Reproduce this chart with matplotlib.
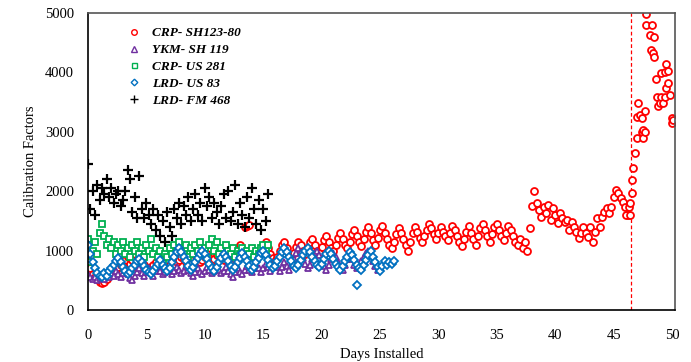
import numpy as np
import matplotlib
matplotlib.use("Agg")
import matplotlib.pyplot as plt

plt.rcParams["font.family"] = ["Liberation Serif", "DejaVu Serif"]

# readings every 0.2 day from installation
step = 0.2

lrd_fm468 = [2450, 1700, 2000, 1600, 2100, 1850, 2050, 1950, 2200, 1900,
             2050, 1800, 1950, 2000, 1750, 1850, 2000, 2350, 2200, 1650,
             1900, 1550, 2250, 1700, 1550, 1800, 1600, 1450, 1700, 1350,
             1600, 1250, 1500, 1150, 1650, 1400, 1250, 1700, 1550, 1800,
             1450, 1750, 1600, 1900, 1500, 1700, 1950, 1600, 1800, 1500,
             2050, 1750, 1900, 1550, 1800, 1650, 1450, 1750, 1950, 1550,
             2000, 1500, 1650, 2100, 1450, 1800, 1600, 1400, 1900, 1550,
             2050, 1700, 1450, 1850, 1350, 1700, 1500, 1950]

crp_us281 = [1200, 800, 1000, 1150, 950, 1300, 1450, 1250, 1100, 1200,
             1050, 1150, 950, 1100, 1000, 1150, 950, 1050, 900, 1100,
             1000, 1150, 950, 1050, 900, 1100, 1000, 1200, 950, 1050,
             900, 1000, 850, 950, 900, 1050, 950, 1100, 1000, 1150,
             1050, 950, 1100, 900, 1050, 950, 1100, 1000, 1150, 950,
             1050, 900, 1100, 1200, 1000, 1150, 950, 1050, 900, 1100,
             1000, 950, 1050, 900, 1000, 950, 1050, 900, 1000, 950,
             1050, 900, 1000, 950, 1050, 1100, 1000, 1100]

lrd_us83 = [1100, 950, 800, 700, 620, 580, 560, 620, 580, 650,
            700, 760, 820, 870, 800, 720, 650, 600, 640, 700,
            760, 820, 860, 800, 740, 680, 640, 610, 660, 720,
            780, 840, 760, 700, 650, 700, 800, 900, 980, 1050,
            980, 900, 820, 740, 680, 720, 800, 880, 950, 1000,
            940, 860, 780, 700, 660, 720, 800, 880, 950, 900,
            820, 740, 680, 720, 800, 880, 960, 900, 820, 740,
            680, 720, 800, 880, 960, 1000, 920, 840, 760, 700,
            740, 820, 900, 980, 1050, 980, 900, 820, 740, 700,
            760, 840, 920, 1000, 1050, 980, 900, 820, 760, 720,
            780, 860, 940, 1000, 940, 860, 780, 720, 680, 740,
            820, 900, 980, 920, 840, 760, 700, 680, 760, 840,
            920, 1000, 900, 800, 720, 660, 740, 820, 760, 800,
            780, 820]
lrd_us83_outlier = (23.0, 420)

ykm_sh119 = [600, 550, 520, 560, 500, 540, 580, 520, 600, 550,
             620, 580, 650, 600, 560, 620, 680, 600, 540, 500,
             580, 640, 700, 620, 580, 640, 700, 620, 580, 650,
             720, 660, 600, 640, 700, 660, 600, 650, 720, 680,
             620, 660, 740, 680, 620, 580, 640, 700, 640, 600,
             660, 720, 680, 620, 660, 740, 680, 620, 660, 720,
             660, 600, 560, 640, 700, 640, 600, 680, 740, 680,
             640, 700, 760, 700, 640, 700, 780, 720, 660, 720,
             780, 720, 660, 720, 800, 740, 680, 760, 860, 960,
             1050, 980, 880, 780, 700, 760, 860, 960, 1000, 920,
             820, 740, 680, 760, 860, 960, 900, 800, 720, 680,
             760, 860, 940, 860, 760, 700, 740, 820, 900, 960,
             1000, 920, 820, 740, 680]

crp_sh123 = [850, 700, 600, 550, 520, 480, 460, 480, 520, 600,
             650, 700, 680, 720, 750, 800, 850, 900, 780, 850,
             750, 700, 680, 720, 750, 700, 680, 720, 760, 800,
             750, 700, 720, 780, 820, 760, 700, 740, 800, 850,
             900, 860, 800, 760, 820, 880, 920, 860, 800, 840,
             900, 950, 880, 820, 860, 920, 980, 900, 850, 880,
             940, 1000, 920, 860, 1050, 1100, 980, 1400, 1420, 1430,
             1000, 900, 860, 940, 1000, 1100, 1150, 1050, 950, 880,
             820, 900, 1000, 1100, 1150, 1050, 950, 880, 960, 1060,
             1150, 1100, 1000, 940, 1040, 1150, 1200, 1100, 1000, 960,
             1060, 1180, 1250, 1150, 1050, 1000, 1100, 1220, 1300, 1200,
             1100, 1050, 1150, 1280, 1350, 1250, 1150, 1080, 1200, 1320,
             1400, 1300, 1180, 1100, 1220, 1350, 1420, 1300, 1200, 1100,
             1050, 1150, 1280, 1380, 1300, 1200, 1100, 1000, 1150, 1300,
             1400, 1320, 1220, 1150, 1250, 1350, 1450, 1380, 1280, 1200,
             1300, 1400, 1320, 1250, 1180, 1300, 1420, 1350, 1250, 1150,
             1080, 1200, 1320, 1420, 1300, 1200, 1100, 1250, 1380, 1450,
             1350, 1250, 1150, 1280, 1400, 1450, 1350, 1250, 1180, 1300,
             1420, 1350, 1250, 1150, 1100, 1200, 1050, 1150, 1000, 1380,
             1750, 2000, 1800, 1680, 1570, 1730, 1630, 1770, 1520, 1720,
             1600, 1470, 1630, 1550, 1480, 1520, 1350, 1480, 1400, 1310,
             1210, 1300, 1400, 1300, 1230, 1400, 1150, 1310, 1550, 1400,
             1570, 1650, 1720, 1630, 1730, 1900, 2020, 1970, 1890, 1820,
             1730, 1600]

# readings after the sensor event (irregular times)
crp_tail_days = [46.1, 46.3, 46.4, 46.4, 46.6, 46.6, 46.7, 46.8, 47.0, 47.0,
                 47.1, 47.3, 47.4, 47.4, 47.5, 47.5, 47.7, 47.7, 47.8, 47.8,
                 48.1, 48.2, 48.3, 48.4, 48.5, 48.5, 48.6, 48.7, 48.8, 49.0,
                 49.1, 49.1, 49.2, 49.4, 49.4, 49.5, 49.5, 49.7, 49.7, 49.8,
                 50.0, 50.0, 50.1]
crp_tail_cf = [1600, 1730, 1800, 1600, 1970, 2190, 2390, 2640, 2900, 3250,
               3490, 3280, 3230, 3000, 3030, 2900, 3000, 3350, 4983, 4800,
               4630, 4380, 4800, 4330, 4600, 4260, 3890, 3590, 3440, 3490,
               3590, 3990, 3490, 3590, 4010, 4140, 3740, 4020, 3820, 3620,
               3230, 3150, 3200]

event_day = 46.5


def days(vals):
    return np.arange(len(vals)) * step


fig = plt.figure(figsize=(6.91, 3.62), dpi=100)
ax = fig.add_axes([0.1274, 0.1436, 0.8495, 0.8204])

red = "#FF0000"
purple = "#7030A0"
green = "#00B050"
blue = "#0070C0"

ax.axvline(event_day, color=red, lw=0.9, ls=(0, (3, 2)), zorder=1)

mk = dict(ls="none", ms=5.0, mew=1.3, mfc="white")
ax.plot(np.concatenate([days(crp_sh123), crp_tail_days]),
        np.concatenate([crp_sh123, crp_tail_cf]),
        marker="o", mec=red, label="CRP- SH123-80", **mk)
ax.plot(days(ykm_sh119), ykm_sh119, marker="^", mec=purple,
        label="YKM- SH 119", **mk)
ax.plot(days(crp_us281), crp_us281, marker="s", mec=green,
        label="CRP- US 281", **dict(mk, ms=4.5))
ax.plot(np.append(days(lrd_us83), lrd_us83_outlier[0]),
        np.append(lrd_us83, lrd_us83_outlier[1]),
        marker="D", mec=blue, label="LRD- US 83", **dict(mk, ms=4.2))
ax.plot(days(lrd_fm468), lrd_fm468, ls="none", marker="+", color="black",
        ms=7, mew=1.6, label="LRD- FM 468")

ax.set_xlim(0, 50.26)
ax.set_ylim(0, 5000)
ax.set_xticks(range(0, 51, 5))
ax.set_yticks(range(0, 5001, 1000))
ax.tick_params(labelsize=10.5, length=0)
ax.tick_params(axis="x", pad=14)
ax.tick_params(axis="y", pad=10)
ax.set_xlabel("Days Installed", fontsize=10.5, labelpad=4)
ax.set_ylabel("Calibration Factors", fontsize=10.5, labelpad=6)

for s in ("left", "bottom"):
    ax.spines[s].set_color("black")
for s in ("top", "right"):
    ax.spines[s].set_color("#555555")
for s in ax.spines.values():
    s.set_linewidth(1.2)

# legend keeps the small markers of the original
leg = ax.legend(loc="upper left", bbox_to_anchor=(0.055, 0.975), frameon=False,
                borderpad=0, handlelength=1.0, handletextpad=0.9,
                labelspacing=0.35, markerscale=0.8,
                prop={"family": "Liberation Serif", "weight": "bold",
                      "style": "italic", "size": 9.5})
for h in leg.legend_handles:
    h.set_markeredgewidth(1.0)

fig.savefig("out.png", dpi=100)
